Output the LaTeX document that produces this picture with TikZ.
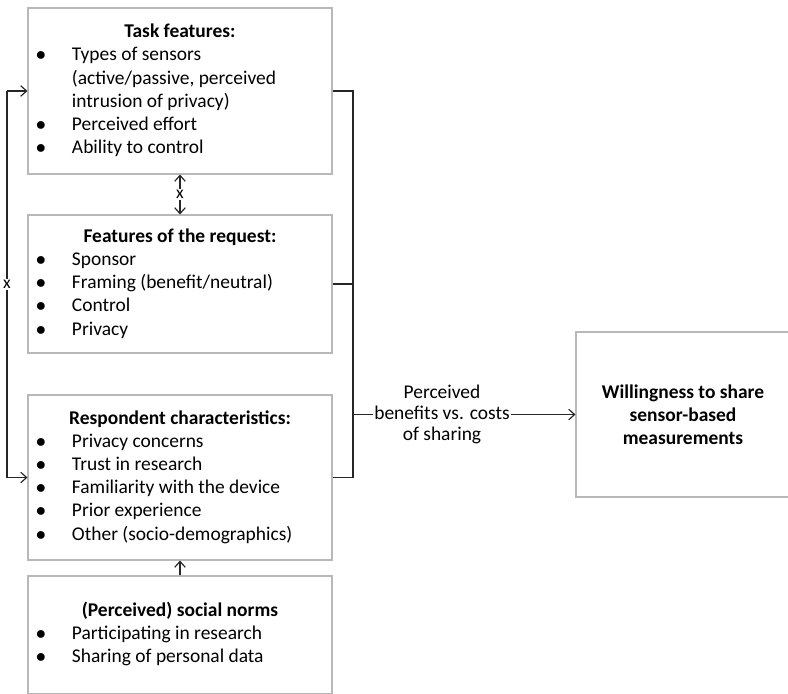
\documentclass[tikz,border=0pt]{standalone}
\usepackage{fontspec}
\setmainfont{Carlito}
\usetikzlibrary{arrows.meta}

\tikzset{
  box/.style={draw=black!28, line width=0.9pt, inner sep=0pt, anchor=center,
    font=\fontsize{16.6}{19.8}\selectfont},
  link/.style={line width=1pt, draw=black!85},
  tip/.style={-{Straight Barb[length=5pt,width=9pt]}},
  cross/.style={fill=white, inner sep=1pt, font=\fontsize{15}{16}\selectfont}
}

\begin{document}
\begin{tikzpicture}[x=0.03cm, y=-0.03cm]
			\clip (0,0) rectangle (788,693);
			\node[box, minimum width=9.12cm, minimum height=4.98cm] (task) at (180,91) {%
				\begin{tabular}{@{}p{1.08cm}@{}p{7.56cm}@{}}
				\multicolumn{2}{@{}c@{}}{\textbf{Task features:}}\\
				$\bullet$ & Types of sensors\\
				  & (active/passive, perceived\\
				  & intrusion of privacy)\\
				$\bullet$ & Perceived effort\\
				$\bullet$ & Ability to control
				\end{tabular}};
			\node[box, minimum width=9.12cm, minimum height=4.14cm] (req) at (180,284) {%
				\begin{tabular}{@{}p{1.08cm}@{}p{7.56cm}@{}}
				\multicolumn{2}{@{}c@{}}{\textbf{Features of the request:}}\\
				$\bullet$ & Sponsor\\
				$\bullet$ & Framing (benefit/neutral)\\
				$\bullet$ & Control\\
				$\bullet$ & Privacy
				\end{tabular}};
			\node[box, minimum width=9.12cm, minimum height=4.95cm] (resp) at (180,477.5) {%
				\begin{tabular}{@{}p{1.08cm}@{}p{7.56cm}@{}}
				\multicolumn{2}{@{}c@{}}{\textbf{Respondent characteristics:}}\\
				$\bullet$ & Privacy concerns\\
				$\bullet$ & Trust in research\\
				$\bullet$ & Familiarity with the device\\
				$\bullet$ & Prior experience\\
				$\bullet$ & Other (socio-demographics)
				\end{tabular}};
			\node[box, minimum width=9.12cm, minimum height=3.54cm] (norms) at (180,635) {%
				\begin{tabular}{@{}p{1.08cm}@{}p{7.56cm}@{}}
				\multicolumn{2}{@{}c@{}}{\textbf{(Perceived) social norms}}\\
				$\bullet$ & Participating in research\\
				$\bullet$ & Sharing of personal data
				\end{tabular}};
			\node[box, minimum width=6.42cm, minimum height=4.95cm, align=center,
				font=\fontsize{16.6}{19.8}\selectfont\bfseries] (will) at (683,414.5)
				{Willingness to share\\ sensor-based\\ measurements};

			% bracket on the right
			\coordinate (rtop) at (353,91);
			\coordinate (rmid) at (353,284);
			\coordinate (rbot) at (353,477.5);
			\coordinate (rout) at (353,414.5);
			\draw[link] (task.east) -- (rtop) -- (rbot) -- (resp.east);
			\draw[link] (req.east) -- (rmid);
			\draw[link, tip] (rout) -- node[pos=0.4, fill=white, inner sep=1pt, align=center,
				font=\fontsize{16.6}{17.9}\selectfont] (gain) {Perceived\\ benefits vs. costs\\ of sharing} (will.west);

			% loop on the left
			\coordinate (ltop) at (7,91);
			\coordinate (lbot) at (7,477.5);
			\draw[link, tip] (ltop) -- (task.west);
			\draw[link, tip] (lbot) -- (resp.west);
			\draw[link] (ltop) -- node[cross] (lx) {x} (lbot);

			\draw[link, {Straight Barb[length=5pt,width=9pt]}-{Straight Barb[length=5pt,width=9pt]}]
				(task.south) -- node[cross] (mx) {x} (req.north);
			\draw[link, tip] (norms.north) -- (resp.south);
		\end{tikzpicture}
\end{document}
